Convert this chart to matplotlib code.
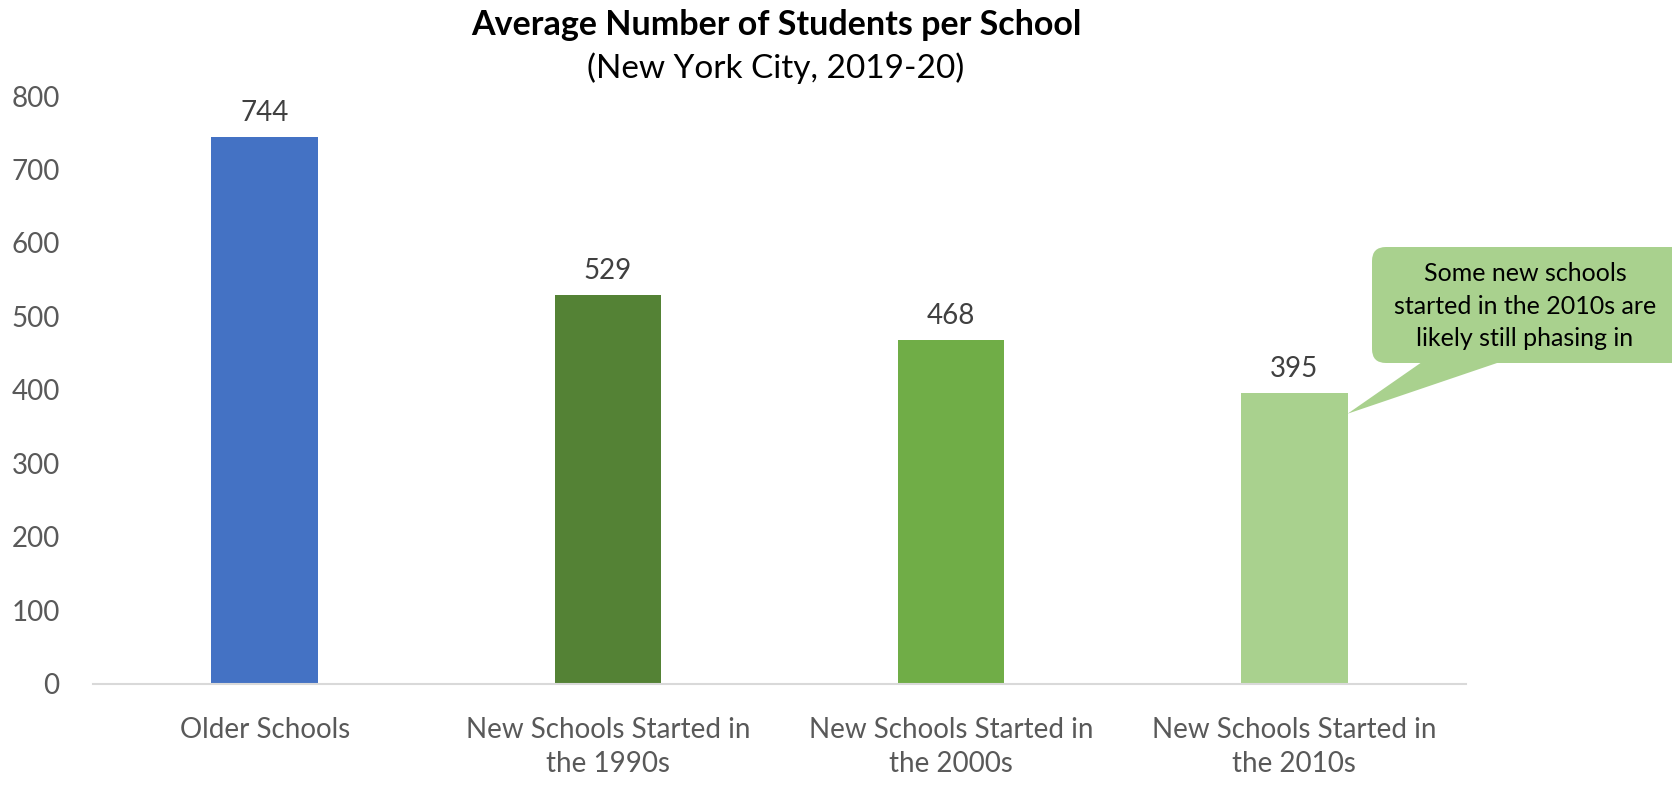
import matplotlib
matplotlib.use("Agg")
import matplotlib.pyplot as plt
from matplotlib.patches import FancyBboxPatch, Polygon

categories = ["Older Schools",
              "New Schools Started in\nthe 1990s",
              "New Schools Started in\nthe 2000s",
              "New Schools Started in\nthe 2010s"]
students = [744, 529, 468, 395]
colors = ["#4472C4", "#548235", "#70AD47", "#A9D18E"]
yticks = [0, 100, 200, 300, 400, 500, 600, 700, 800]
note = "Some new schools\nstarted in the 2010s are\nlikely still phasing in"

plt.rcParams['font.family'] = ['Lato', 'DejaVu Sans']

W, H = 1672, 785
fig = plt.figure(figsize=(W / 100, H / 100), dpi=100)
ax = fig.add_axes([93 / W, 1 - 683.5 / H, (1466 - 93) / W, (683.5 - 96) / H])

x = range(len(students))
bars = ax.bar(x, students, width=0.31, color=colors, zorder=2)
for xi, v in zip(x, students):
    ax.annotate(str(v), (xi, v), xytext=(0, 8), textcoords="offset points",
                ha="center", va="bottom", fontsize=20, color="#404040")

ax.set_xlim(-0.5, len(students) - 0.5)
ax.set_ylim(0, 800)
ax.set_yticks(yticks)
ax.set_xticks(list(x))
ax.set_xticklabels(categories, fontsize=20, color="#595959", linespacing=1.4)
ax.tick_params(axis="y", labelsize=20, labelcolor="#595959", length=0, pad=24)
ax.tick_params(axis="x", length=0, pad=24)
for side in ["top", "right", "left"]:
    ax.spines[side].set_visible(False)
ax.spines["bottom"].set_color("#D9D9D9")
ax.spines["bottom"].set_linewidth(1.5)

fig.text(776 / W, 1 - 25 / H, "Average Number of Students per School",
         ha="center", va="center", fontsize=24.5, fontweight="bold", color="black")
fig.text(776 / W, 1 - 68 / H, "(New York City, 2019-20)",
         ha="center", va="center", fontsize=24, color="black")

# speech bubble pointing at the last bar, drawn on a pixel overlay
ov = fig.add_axes([0, 0, 1, 1], zorder=5)
ov.set_xlim(0, W)
ov.set_ylim(H, 0)
ov.axis("off")
fig.canvas.draw()
last = bars[-1]
tip = ax.transData.transform((last.get_x() + last.get_width(), students[-1] * 0.93))
tip = (tip[0], H - tip[1])
bubble_fill = colors[-1]
ov.add_patch(FancyBboxPatch((1372, 247), 330, 116,
                            boxstyle="round,pad=0,rounding_size=14",
                            fc=bubble_fill, ec="none", clip_on=False))
ov.add_patch(Polygon([(1422, 362), (1500, 362), tip], closed=True,
                     fc=bubble_fill, ec="none"))
ov.text(1525, 306, note, ha="center", va="center", fontsize=18,
        color="black", linespacing=1.5)

fig.savefig("out.png", dpi=100)
